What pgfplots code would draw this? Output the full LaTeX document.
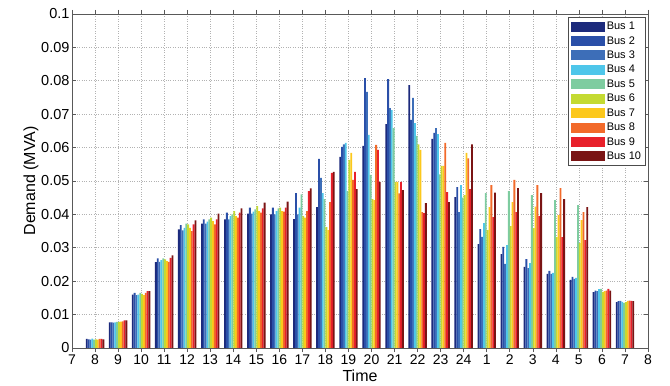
\documentclass[border=0pt]{standalone}
\usepackage{pgfplots}
\pgfplotsset{compat=1.18}
\usepackage{pgfplotstable}
\usepackage{fontspec}
\setmainfont{Liberation Sans}
\definecolor{c1}{HTML}{1C2A7C}
\definecolor{c2}{HTML}{2A4FA8}
\definecolor{c3}{HTML}{3D6EB8}
\definecolor{c4}{HTML}{4EC6EA}
\definecolor{c5}{HTML}{7ECCA0}
\definecolor{c6}{HTML}{C4DA32}
\definecolor{c7}{HTML}{FCC81C}
\definecolor{c8}{HTML}{F26A2A}
\definecolor{c9}{HTML}{E8202A}
\definecolor{c10}{HTML}{7A1414}
\pgfplotstableread{
x b1 b2 b3 b4 b5 b6 b7 b8 b9 b10
1 0.0027 0.0026 0.0025 0.0028 0.0025 0.0026 0.0025 0.0027 0.0027 0.0026
2 0.0077 0.0077 0.0076 0.0077 0.0078 0.0078 0.0079 0.0080 0.0083 0.0083
3 0.0160 0.0165 0.0158 0.0160 0.0165 0.0162 0.0158 0.0165 0.0170 0.0170
4 0.0257 0.0268 0.0258 0.0263 0.0268 0.0265 0.0260 0.0258 0.0270 0.0277
5 0.0355 0.0368 0.0352 0.0360 0.0372 0.0370 0.0360 0.0350 0.0370 0.0382
6 0.0372 0.0385 0.0372 0.0378 0.0385 0.0390 0.0380 0.0370 0.0385 0.0402
7 0.0385 0.0405 0.0385 0.0395 0.0400 0.0410 0.0395 0.0390 0.0405 0.0418
8 0.0402 0.0420 0.0402 0.0408 0.0415 0.0425 0.0410 0.0405 0.0418 0.0435
9 0.0400 0.0420 0.0400 0.0410 0.0418 0.0420 0.0410 0.0408 0.0420 0.0438
10 0.0386 0.0464 0.0400 0.0420 0.0460 0.0395 0.0390 0.0410 0.0470 0.0478
11 0.0422 0.0566 0.0509 0.0464 0.0446 0.0362 0.0353 0.0437 0.0524 0.0527
12 0.0572 0.0602 0.0610 0.0614 0.0470 0.0563 0.0584 0.0503 0.0527 0.0476
13 0.0605 0.0808 0.0767 0.0638 0.0518 0.0446 0.0443 0.0608 0.0593 0.0497
14 0.0670 0.0805 0.0718 0.0712 0.0658 0.0497 0.0497 0.0463 0.0497 0.0473
15 0.0787 0.0683 0.0749 0.0673 0.0635 0.0610 0.0593 0.0407 0.0404 0.0434
16 0.0626 0.0644 0.0658 0.0640 0.0520 0.0545 0.0545 0.0614 0.0467 0.0437
17 0.0452 0.0482 0.0407 0.0488 0.0450 0.0458 0.0584 0.0568 0.0476 0.0610
18 0.0311 0.0356 0.0333 0.0374 0.0464 0.0353 0.0422 0.0488 0.0392 0.0465
19 0.0281 0.0303 0.0252 0.0308 0.0470 0.0365 0.0437 0.0503 0.0407 0.0479
20 0.0243 0.0266 0.0239 0.0254 0.0458 0.0359 0.0423 0.0488 0.0395 0.0464
21 0.0222 0.0231 0.0222 0.0225 0.0443 0.0332 0.0398 0.0479 0.0332 0.0446
22 0.0204 0.0213 0.0207 0.0210 0.0428 0.0314 0.0383 0.0407 0.0323 0.0422
23 0.0167 0.0172 0.0170 0.0176 0.0177 0.0168 0.0170 0.0172 0.0177 0.0172
24 0.0137 0.0140 0.0141 0.0138 0.0135 0.0137 0.0141 0.0142 0.0141 0.0140
}\data
\begin{document}
\begin{tikzpicture}
\begin{axis}[
  name=ax,
  scale only axis,
  width=576pt, height=334pt,
  xmin=0, xmax=25, ymin=0, ymax=0.1,
  xtick={0,...,25},
  xticklabels={7,8,9,10,11,12,13,14,15,16,17,18,19,20,21,22,23,24,1,2,3,4,5,6,7,8},
  ytick={0,0.01,...,0.1},
  yticklabels={0,0.01,0.02,0.03,0.04,0.05,0.06,0.07,0.08,0.09,0.1},
  xticklabel style={font=\fontsize{14}{16}\selectfont, yshift=1pt},
  yticklabel style={font=\fontsize{14.5}{16}\selectfont, xshift=1pt},
  label style={font=\fontsize{16}{19}\selectfont},
  xlabel={Time}, ylabel={Demand (MVA)},
  xlabel style={yshift=1pt},
  ylabel style={yshift=-4pt},
  axis line style={black!65, line width=0.8pt},
  tick style={black!65, line width=0.6pt},
  major tick length=4pt,
  tick align=inside,
  xmajorgrids, ymajorgrids,
  grid style={black!30, dotted, line width=0.6pt},
  ybar=0pt, bar width=0.08,
  legend style={at={(0.996,0.99)}, anchor=north east, draw=black!70, fill=white,
    font=\fontsize{11}{13}\selectfont, row sep=1.3pt, inner sep=2.5pt},
  legend cell align=left,
  legend image code/.code={\fill[#1] (0pt,-5pt) rectangle (34pt,5pt);},
]
\addplot[fill=c1, draw=none, bar shift=-0.36] table[x=x,y=b1] {\data};
\addplot[fill=c2, draw=none, bar shift=-0.28] table[x=x,y=b2] {\data};
\addplot[fill=c3, draw=none, bar shift=-0.20] table[x=x,y=b3] {\data};
\addplot[fill=c4, draw=none, bar shift=-0.12] table[x=x,y=b4] {\data};
\addplot[fill=c5, draw=none, bar shift=-0.04] table[x=x,y=b5] {\data};
\addplot[fill=c6, draw=none, bar shift=0.04] table[x=x,y=b6] {\data};
\addplot[fill=c7, draw=none, bar shift=0.12] table[x=x,y=b7] {\data};
\addplot[fill=c8, draw=none, bar shift=0.20] table[x=x,y=b8] {\data};
\addplot[fill=c9, draw=none, bar shift=0.28] table[x=x,y=b9] {\data};
\addplot[fill=c10, draw=none, bar shift=0.36] table[x=x,y=b10] {\data};
\legend{Bus 1,Bus 2,Bus 3,Bus 4,Bus 5,Bus 6,Bus 7,Bus 8,Bus 9,Bus 10}
\end{axis}
\path ([shift={(-72pt,-37pt)}]ax.south west) rectangle ([shift={(22pt,14pt)}]ax.north east);
\end{tikzpicture}
\end{document}
